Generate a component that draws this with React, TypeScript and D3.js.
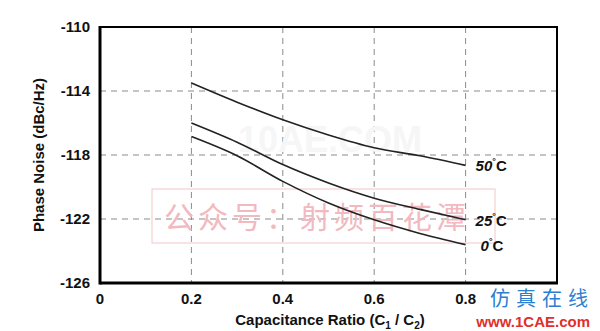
import * as d3 from 'd3';

const ratios = [0.2, 0.3, 0.4, 0.5, 0.6, 0.7, 0.8];
const noise50 = [-113.5, -114.7, -115.8, -116.75, -117.55, -118.05, -118.65];
const noise25 = [-116.0, -117.2, -118.6, -119.75, -120.7, -121.4, -122.05];
const noise0 = [-116.85, -118.05, -119.65, -121.0, -122.05, -122.9, -123.6];
const xTicks = [0, 0.2, 0.4, 0.6, 0.8];
const yTicks = [-126, -122, -118, -114, -110];
const seriesLabels = ['50', '25', '0'];

const W = 600;
const H = 331;
const m = { left: 100, right: 43, top: 27, bottom: 48 };

export default function App() {
  const x = d3.scaleLinear().domain([0, 1]).range([m.left, W - m.right]);
  const y = d3.scaleLinear().domain([-126, -110]).range([H - m.bottom, m.top]);
  const line = d3
    .line<number>()
    .x((_, i) => x(ratios[i]))
    .y((d) => y(d))
    .curve(d3.curveMonotoneX);
  const series = [noise50, noise25, noise0];
  const labelDx = [10, 10, 15];
  const font = '"Liberation Sans", Arial, sans-serif';

  return (
    <svg
      width={W}
      height={H}
      style={{ position: 'absolute', left: 0, top: 0, background: '#fff' }}
      fontFamily={font}
    >
      {/* grid */}
      {xTicks.slice(1).map((t) => (
        <line key={'gx' + t} x1={x(t)} x2={x(t)} y1={y(-110)} y2={y(-126)}
          stroke="#8a8a8a" strokeWidth={1} strokeDasharray="6,5" />
      ))}
      {yTicks.slice(1, -1).map((t) => (
        <line key={'gy' + t} x1={x(0)} x2={x(1)} y1={y(t)} y2={y(t)}
          stroke="#8a8a8a" strokeWidth={1} strokeDasharray="6,5" />
      ))}

      {/* watermarks */}
      <text x={330} y={152} fontSize={36} fontWeight="bold" fill="#f6f6f6" textAnchor="middle">10AE.COM</text>
      <rect x={152} y={189} width={343} height={54} fill="none" stroke="#f3c6ca" strokeWidth={1} />
      <text x={164} y={228} fontSize={30} fill="#f2b9c0"
        fontFamily='"Noto Sans CJK SC", sans-serif' letterSpacing={4}>公众号：射频百花潭</text>

      {/* curves */}
      {series.map((s, i) => (
        <path key={'s' + i} d={line(s) ?? ''} fill="none" stroke="#222" strokeWidth={1.6} />
      ))}
      {series.map((s, i) => (
        <text key={'l' + i} x={x(0.8) + labelDx[i]} y={y(s[s.length - 1]) + 6}
          fontSize={15} fontWeight="bold" fill="#111">
          <tspan fontStyle="italic">{seriesLabels[i]}</tspan>
          <tspan fontSize={9} dy={-7}>°</tspan>
          <tspan dy={7}>C</tspan>
        </text>
      ))}

      {/* frame */}
      <rect x={x(0)} y={y(-110)} width={x(1) - x(0)} height={y(-126) - y(-110)}
        fill="none" stroke="#000" strokeWidth={2} />
      <line x1={x(0)} x2={x(0)} y1={y(-110) - 1} y2={y(-126) + 1.5} stroke="#000" strokeWidth={3} />
      <line x1={x(0)} x2={x(1) + 1} y1={y(-126)} y2={y(-126)} stroke="#000" strokeWidth={3} />

      {/* tick labels */}
      {yTicks.map((t) => (
        <text key={'ty' + t} x={x(0) - 10} y={y(t) + 5} fontSize={15} fontWeight="bold"
          textAnchor="end" fill="#111">{t}</text>
      ))}
      {xTicks.map((t) => (
        <text key={'tx' + t} x={x(t)} y={H - m.bottom + 21} fontSize={15} fontWeight="bold"
          textAnchor="middle" fill="#111">{t === 0 ? '0' : String(t)}</text>
      ))}

      {/* axis titles */}
      <text x={330} y={325} fontSize={15} fontWeight="bold" textAnchor="middle" fill="#111">
        Capacitance Ratio (C<tspan fontSize={10} dy={4}>1</tspan>
        <tspan dy={-4}> / C</tspan><tspan fontSize={10} dy={4}>2</tspan><tspan dy={-4}>)</tspan>
      </text>
      <text transform={`translate(44,${(m.top + H - m.bottom) / 2}) rotate(-90)`} fontSize={15}
        fontWeight="bold" textAnchor="middle" fill="#111">Phase Noise (dBc/Hz)</text>

      {/* corner watermark */}
      <text x={490} y={306} fontSize={20} fill="#2b7fd0" letterSpacing={6}
        fontFamily='"Noto Sans CJK SC", sans-serif'>仿真在线</text>
      <text x={590} y={327} fontSize={15} fontWeight="bold" fill="#e0302a" textAnchor="end">www.1CAE.com</text>
    </svg>
  );
}
